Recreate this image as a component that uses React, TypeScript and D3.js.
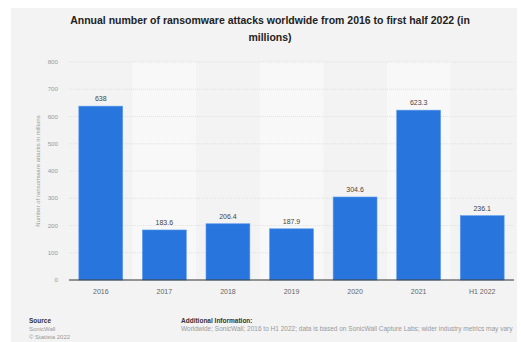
import React from "react";
import * as d3 from "d3";

const categories = ["2016", "2017", "2018", "2019", "2020", "2021", "H1 2022"];
const values = [638, 183.6, 206.4, 187.9, 304.6, 623.3, 236.1];
const valueLabels = ["638", "183.6", "206.4", "187.9", "304.6", "623.3", "236.1"];
const yTicks = [0, 100, 200, 300, 400, 500, 600, 700, 800];
const titleLines = [
  "Annual number of ransomware attacks worldwide from 2016 to first half 2022 (in",
  "millions)",
];
const yAxisTitle = "Number of ransomware attacks in millions";
const sourceLines = ["SonicWall", "© Statista 2022"];
const infoText =
  "Worldwide; SonicWall; 2016 to H1 2022; data is based on SonicWall Capture Labs; wider industry metrics may vary";

const W = 521;
const H = 342;
const FONT = "'Liberation Sans', Arial, Helvetica, sans-serif";

export default function App() {
  const x = d3
    .scaleBand<string>()
    .domain(categories)
    .range([69, 514])
    .paddingInner(0.31)
    .paddingOuter(0.155);
  const y = d3.scaleLinear().domain([0, 800]).range([280, 62]);
  const step = x.step();
  const left = 69;

  return (
    <svg
      width={W}
      height={H}
      style={{ position: "absolute", left: 0, top: 0, fontFamily: FONT }}
    >
      <rect x={0} y={0} width={W} height={H} fill="#ffffff" />
      <rect x={11} y={8} width={506} height={H - 8} fill="#f3f3f3" />
      {categories.map((c, i) =>
        i % 2 === 1 ? (
          <rect
            key={"band" + c}
            x={left + i * step}
            y={y(800)}
            width={step}
            height={y(0) - y(800)}
            fill="#f8f8f8"
          />
        ) : null
      )}
      {titleLines.map((t, i) => (
        <text
          key={"t" + i}
          x={270}
          y={24 + i * 17}
          textAnchor="middle"
          fontSize={10.5}
          fontWeight="bold"
          fill="#222"
        >
          {t}
        </text>
      ))}
      {yTicks.map((t) => (
        <g key={"yt" + t}>
          {t > 0 && (
            <line
              x1={69}
              x2={514}
              y1={y(t)}
              y2={y(t)}
              stroke="#dcdcdc"
              strokeWidth={0.8}
              strokeDasharray="1,1"
            />
          )}
          <text
            x={58}
            y={y(t) + 2}
            textAnchor="end"
            fontSize={6.2}
            fill="#9a9a9a"
          >
            {t}
          </text>
        </g>
      ))}
      <text
        transform={`translate(40,${(y(0) + y(800)) / 2 + 0}) rotate(-90)`}
        textAnchor="middle"
        fontSize={6}
        fill="#9a9a9a"
      >
        {yAxisTitle}
      </text>
      {categories.map((c, i) => (
        <g key={"bar" + c}>
          <rect
            x={x(c)!}
            y={y(values[i])}
            width={x.bandwidth()}
            height={y(0) - y(values[i])}
            fill="#2876dd"
            stroke="#5b9af0"
            strokeWidth={0.6}
          />
          <text
            x={x(c)! + x.bandwidth() / 2}
            y={y(values[i]) - 5}
            textAnchor="middle"
            fontSize={7}
            fill="#444"
          >
            {valueLabels[i]}
          </text>
          <text
            x={x(c)! + x.bandwidth() / 2}
            y={294}
            textAnchor="middle"
            fontSize={7}
            fill="#666"
          >
            {c}
          </text>
        </g>
      ))}
      <line x1={69} x2={514} y1={y(0)} y2={y(0)} stroke="#333" strokeWidth={1} />
      <text x={29} y={323} fontSize={6.5} fontWeight="bold" fill="#333">
        Source
      </text>
      {sourceLines.map((s, i) => (
        <text key={"s" + i} x={29} y={331 + i * 8} fontSize={6} fill="#999">
          {s}
        </text>
      ))}
      <text x={181} y={323} fontSize={6.5} fontWeight="bold" fill="#333">
        Additional Information:
      </text>
      <text x={181} y={331} fontSize={6.5} fill="#999">
        {infoText}
      </text>
    </svg>
  );
}
